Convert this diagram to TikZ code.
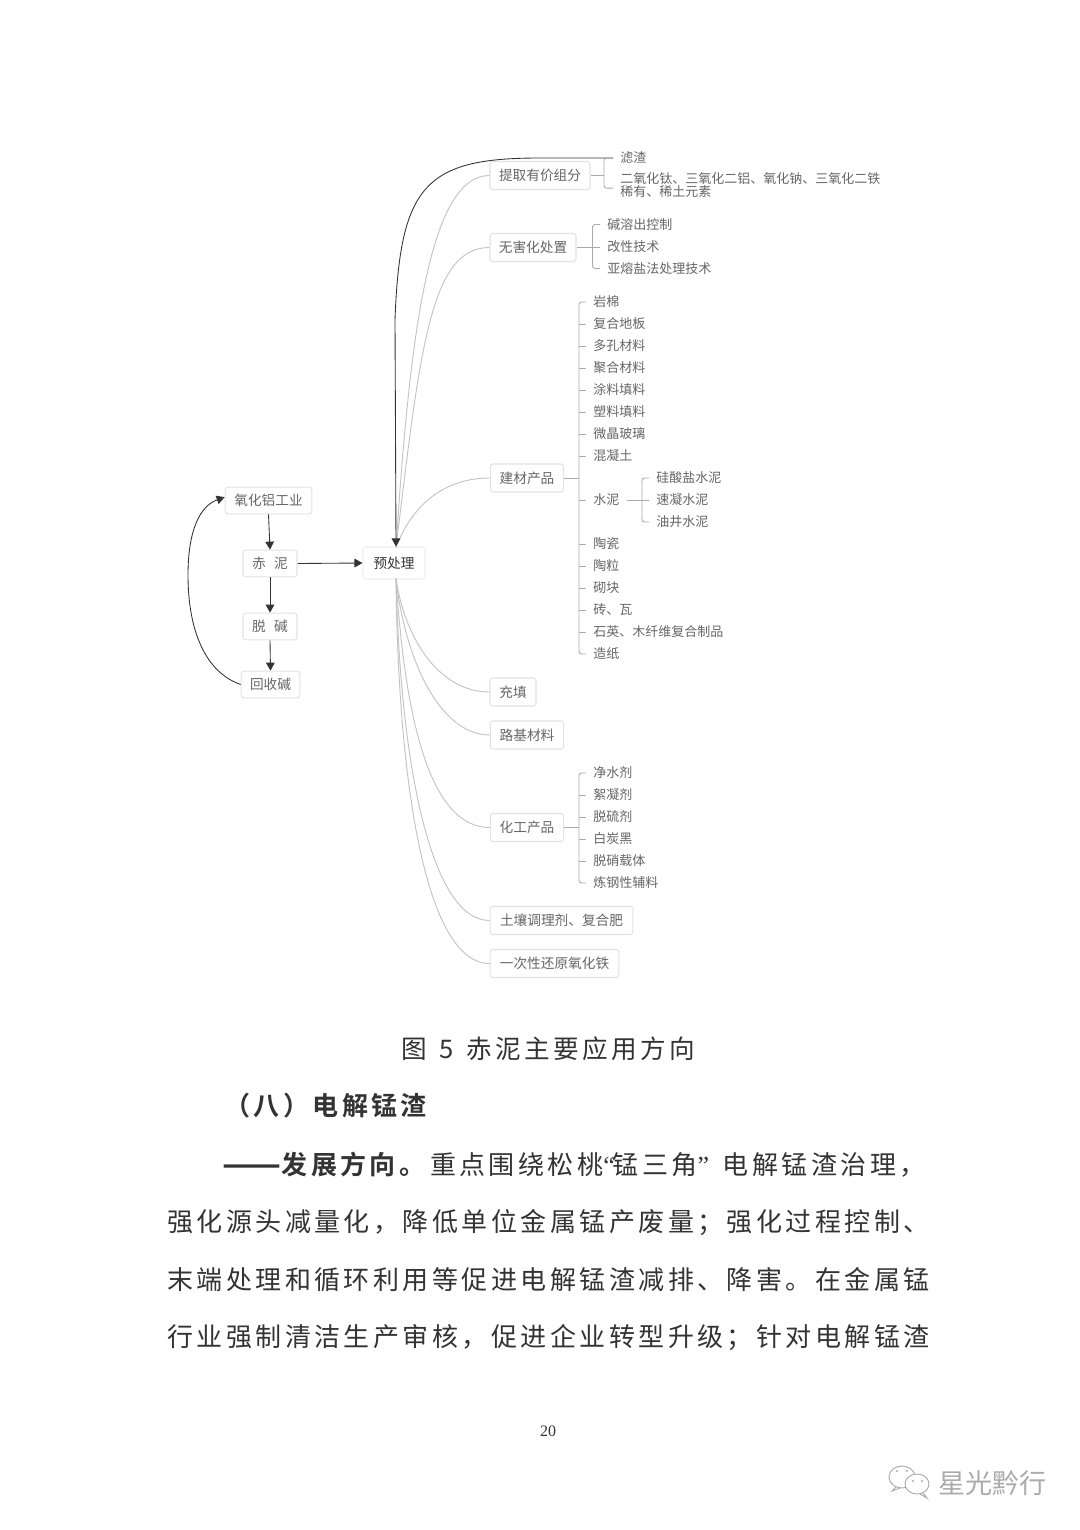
\documentclass[tikz,border=0pt]{standalone}
\usepackage{fontspec}
\usetikzlibrary{arrows.meta}
\setmainfont{Noto Sans CJK SC}
\newfontfamily\bodyfont[LetterSpace=13.3,BoldFont={Noto Sans CJK SC Bold}]{Noto Sans CJK SC}
\newfontfamily\numfont{Liberation Serif}
\newcommand{\narrowq}[2]{\makebox[#1][l]{\numfont #2}}
\definecolor{txt}{HTML}{666666}
\definecolor{bodytxt}{HTML}{333333}
\definecolor{curve}{HTML}{C4C4C4}
\definecolor{brk}{HTML}{ABABAB}
\definecolor{boxline}{HTML}{E3E3E3}
\definecolor{wm}{HTML}{ABABAB}
\tikzset{
  nbox/.style={draw=boxline,line width=0.8pt,rounded corners=2pt,fill=white,inner sep=0pt,
    minimum height=21pt,text=txt,font=\fontsize{10.25}{10.5}\selectfont},
  leaf/.style={anchor=west,inner ysep=0pt,inner xsep=5.25pt,text=txt,align=left,yshift=-0.75pt,
    font=\fontsize{9.75}{9.75}\selectfont},
  gline/.style={draw=curve,line width=0.7pt},
  bline/.style={draw=brk,line width=0.7pt,rounded corners=2pt},
  kline/.style={draw=black!80,line width=0.65pt},
  arr/.style={kline,-{Triangle[length=6pt,width=6.5pt]}},
  bodyline/.style={anchor=west,inner sep=0pt,text=bodytxt,font=\bodyfont\fontsize{19.5}{22}\selectfont},
}
\begin{document}
\begin{tikzpicture}[x=0.75pt,y=-0.75pt]
\fill[white] (0,0) rectangle (1080,1530);
\useasboundingbox (0,0) rectangle (1080,1530);

% left chain
\node[nbox,minimum width=65pt,minimum height=20pt] (al) at (268.5,500.5) {氧化铝工业};
\node[nbox,minimum width=40.5pt,minimum height=20pt] (cn) at (270,563.5) {赤\hspace{0.6em}泥};
\node[nbox,minimum width=40.5pt,minimum height=20pt] (tj) at (270,626.5) {脱\hspace{0.6em}碱};
\node[nbox,minimum width=44pt,minimum height=20pt] (hs) at (270.5,684.5) {回收碱};
\node[nbox,minimum width=46.5pt,minimum height=24pt,draw=boxline!50,text=black!80] (main) at (394,563) {预处理};
\draw[arr] (al.south) -- (cn.north);
\draw[arr] (cn.south) -- (tj.north);
\draw[arr] (tj.south) -- (hs.north);
\draw[arr] (cn.east) -- (main.west);
\draw[arr] (hs.west) .. controls (205,672) and (188,630) .. (188,575) .. controls (188,530) and (200,506) .. ([yshift=2.5pt]al.west);

% first-level boxes
\node[nbox,minimum width=75pt] (tq) at (540,175.5) {提取有价组分};
\node[nbox,minimum width=64.5pt] (wh) at (533,247.5) {无害化处置};
\node[nbox,minimum width=55pt] (jc) at (527,478) {建材产品};
\node[nbox,minimum width=34.5pt] (ct) at (513,692) {充填};
\node[nbox,minimum width=55pt] (lj) at (527,735) {路基材料};
\node[nbox,minimum width=55pt] (hg) at (527,827.5) {化工产品};
\node[nbox,minimum width=107pt] (tr) at (561.5,920.5) {土壤调理剂、复合肥};
\node[nbox,minimum width=96.5pt] (yc) at (554.5,963.5) {一次性还原氧化铁};

% leaves: extraction
\node[leaf] (zz) at (613,157) {滤渣};
\node[leaf] (eh) at (613,184.5) {二氧化钛、三氧化二铝、氧化钠、三氧化二铁\\稀有、稀土元素};
% leaves: harmless treatment
\node[leaf] (w1) at (600,223.5) {碱溶出控制};
\node[leaf] (w2) at (600,245.5) {改性技术};
\node[leaf] (w3) at (600,267.5) {亚熔盐法处理技术};
% leaves: building materials
\node[leaf] (j1) at (586,301) {岩棉};
\node[leaf] (j2) at (586,323) {复合地板};
\node[leaf] (j3) at (586,345) {多孔材料};
\node[leaf] (j4) at (586,367) {聚合材料};
\node[leaf] (j5) at (586,389) {涂料填料};
\node[leaf] (j6) at (586,411) {塑料填料};
\node[leaf] (j7) at (586,433) {微晶玻璃};
\node[leaf] (j8) at (586,455) {混凝土};
\node[leaf] (j9) at (586,499) {水泥};
\node[leaf] (j10) at (586,543) {陶瓷};
\node[leaf] (j11) at (586,565) {陶粒};
\node[leaf] (j12) at (586,587) {砌块};
\node[leaf] (j13) at (586,609) {砖、瓦};
\node[leaf] (j14) at (586,631) {石英、木纤维复合制品};
\node[leaf] (j15) at (586,653) {造纸};
% leaves: cement
\node[leaf] (s1) at (649,477) {硅酸盐水泥};
\node[leaf] (s2) at (649,499) {速凝水泥};
\node[leaf] (s3) at (649,521) {油井水泥};
% leaves: chemical products
\node[leaf] (h1) at (586,772) {净水剂};
\node[leaf] (h2) at (586,794) {絮凝剂};
\node[leaf] (h3) at (586,816) {脱硫剂};
\node[leaf] (h4) at (586,838) {白炭黑};
\node[leaf] (h5) at (586,860) {脱硝载体};
\node[leaf] (h6) at (586,882) {炼钢性辅料};

% curves from main
\coordinate (mt) at (396,547.5);
\coordinate (mb) at (396,578.5);
\draw[gline] (mt) .. controls (410,330) and (430,175.5) .. (tq.west);
\draw[gline] (mt) .. controls (420,350) and (430,247.5) .. (wh.west);
\draw[gline] (mt) .. controls (410,510) and (440,478) .. (jc.west);
\draw[gline] (mb) .. controls (405,640) and (440,692) .. (ct.west);
\draw[gline] (mb) .. controls (405,660) and (440,735) .. (lj.west);
\draw[gline] (mb) .. controls (405,720) and (430,827.5) .. (hg.west);
\draw[gline] (mb) .. controls (400,760) and (430,920.5) .. (tr.west);
\draw[gline] (mb) .. controls (398,780) and (425,963.5) .. (yc.west);
\draw[arr] (zz.west) -- (540,158) .. controls (425,158) and (400,185) .. (395,320) -- (main.north -| mt);

% brackets
\coordinate (k1) at (604,175.5);
\coordinate (k2) at (592.5,247.5);
\coordinate (k3) at (579,478);
\coordinate (k4) at (642,499);
\coordinate (k5) at (579,827.5);
\draw[bline] (tq.east) -- (k1);
\draw[bline] (zz.west) -| (k1) |- ([yshift=-2pt]eh.west);
\draw[bline] (wh.east) -- (wh.east -| w2.west);
\draw[bline] (w1.west) -| (k2) |- (w3.west);
\draw[bline] (jc.east) -- (k3);
\draw[bline] (j1.west) -| (k3) |- (j15.west);
\foreach \n in {j2,j3,j4,j5,j6,j7,j8,j9,j10,j11,j12,j13,j14}
  \draw[bline] (\n.west) -- (\n.west -| k3);
\draw[bline] (j9.east) -- (s2.west);
\draw[bline] (s1.west) -| (k4) |- (s3.west);
\draw[bline] (hg.east) -- (k5);
\draw[bline] (h1.west) -| (k5) |- (h6.west);
\foreach \n in {h2,h3,h4,h5}
  \draw[bline] (\n.west) -- (\n.west -| k5);

% page text
\node[bodyline,font=\bodyfont\fontsize{19.2}{22}\selectfont] (cap) at (401,1048.7) {图\hspace{0.49em}5\hspace{0.49em}赤泥主要应用方向};
\node[bodyline,font=\bodyfont\bfseries\fontsize{19.5}{22}\selectfont] (hd) at (224,1105.7) {（八）电解锰渣};
\node[bodyline] (p1) at (222,1164.5) {{\bfseries\makebox[44.5pt][l]{\raisebox{-1.5pt}{\fontsize{26}{22}\selectfont ——}}发展方向。}\hspace{3.5pt}重点围绕松桃\narrowq{7pt}{“}锰三角\narrowq{19pt}{”}电解锰渣治理，};
\node[bodyline] (p2) at (167,1222.5) {强化源头减量化，降低单位金属锰产废量；强化过程控制、};
\node[bodyline] (p3) at (167,1280) {末端处理和循环利用等促进电解锰渣减排、降害。在金属锰};
\node[bodyline] (p4) at (167,1337.5) {行业强制清洁生产审核，促进企业转型升级；针对电解锰渣};
\node[inner sep=0pt,text=bodytxt,font=\numfont\fontsize{12}{14}\selectfont] (pg) at (548,1431) {20};

% watermark
\draw[wm,line width=0.7pt,fill=white] (902,1477) ellipse [x radius=13,y radius=11];
\draw[wm,line width=0.7pt] (896,1487) -- (892,1491) -- (900,1488);
\fill[wm] (897,1471) circle (1.2) (907,1471) circle (1.2);
\draw[wm,line width=0.7pt,fill=white] (917,1484) ellipse [x radius=12,y radius=10];
\draw[wm,line width=0.7pt] (923,1493) -- (927,1498) -- (920,1494);
\fill[wm] (913,1481) circle (1.2) (922,1481) circle (1.2);
\node[anchor=west,inner sep=0pt,text=wm,font=\fontsize{20.3}{22}\selectfont] (wt) at (938,1483) {星光黔行};
\end{tikzpicture}
\end{document}
